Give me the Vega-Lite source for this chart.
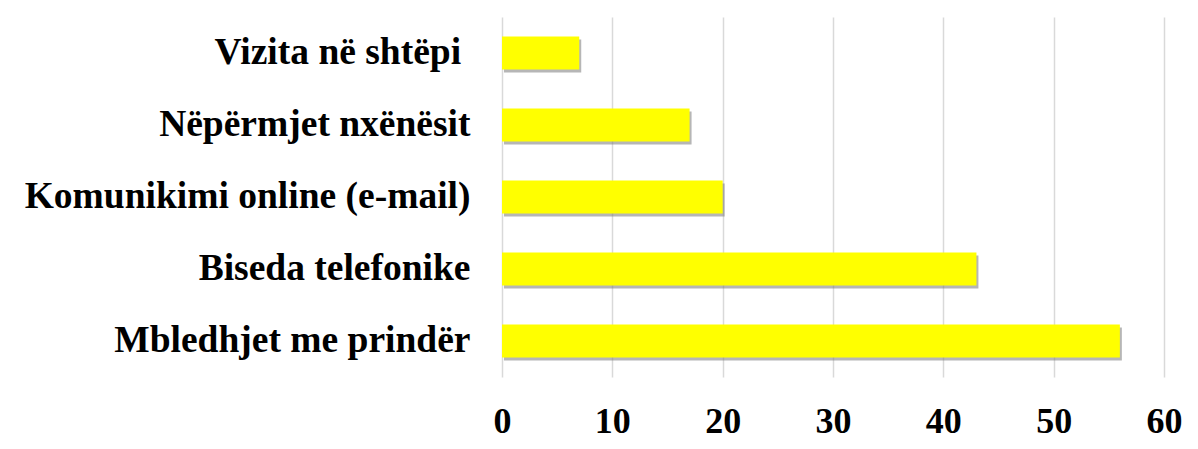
{
  "$schema": "https://vega.github.io/schema/vega-lite/v6.json",
  "autosize": "none",
  "width": 662,
  "height": 360,
  "padding": {"left": 502, "top": 17, "right": 34, "bottom": 72},
  "background": "white",
  "config": {"view": {"stroke": null}},
  "data": {"values": [
    {"category": "Vizita në shtëpi\u00a0\u200b", "value": 7},
    {"category": "Nëpërmjet nxënësit", "value": 17},
    {"category": "Komunikimi online (e-mail)", "value": 20},
    {"category": "Biseda telefonike", "value": 43},
    {"category": "Mbledhjet me prindër", "value": 56}
  ]},
  "encoding": {
    "y": {
      "field": "category", "type": "nominal", "sort": null,
      "scale": {"paddingInner": 0.54, "paddingOuter": 0.27},
      "axis": {"title": null, "domain": false, "ticks": false, "tickSize": 0,
        "labelPadding": 32, "labelFont": "Liberation Serif", "labelFontWeight": "bold",
        "labelFontSize": 37.5, "labelColor": "#000000", "labelLimit": 600, "labelBaseline": "middle"}
    },
    "x": {
      "field": "value", "type": "quantitative",
      "scale": {"domain": [0, 60], "nice": false},
      "axis": {"title": null, "values": [0, 10, 20, 30, 40, 50, 60], "domain": false, "ticks": false, "tickSize": 0,
        "labelPadding": 27, "labelFont": "Liberation Serif", "labelFontWeight": "bold",
        "labelFontSize": 36, "labelColor": "#000000", "grid": true, "gridColor": "#d9d9d9", "gridWidth": 1.5,
        "labelFlush": false}
    }
  },
  "layer": [
    {"mark": {"type": "bar", "color": "#7a7a7a", "opacity": 0.55, "xOffset": 2, "yOffset": 3}},
    {"mark": {"type": "bar", "color": "#ffff00"}}
  ]
}
